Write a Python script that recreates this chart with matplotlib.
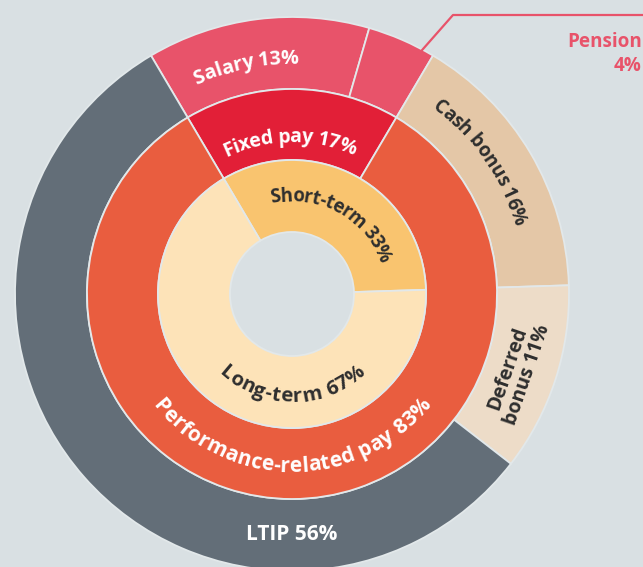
import matplotlib.pyplot as plt
import numpy as np
from matplotlib.font_manager import FontProperties

# pay mix, outer ring to inner ring
outer_labels = ["Salary", "Pension", "Cash bonus", "Deferred bonus", "LTIP"]
outer_values = [13, 4, 16, 11, 56]
middle_labels = ["Fixed pay", "Performance-related pay"]
middle_values = [17, 83]
inner_labels = ["Short-term", "Long-term"]
inner_values = [33, 67]

outer_colors = ["#E8536A", "#E8536A", "#E4C7A7", "#EDDCC8", "#636E78"]
middle_colors = ["#E21F37", "#E95D3F"]
inner_colors = ["#F9C46F", "#FDE3B8"]

BG = "#D9E0E3"
EDGE = "#E2E8EA"
DARK = "#2E2E2E"
PINK = "#E8536A"
FONT = "Open Sans"

W, H = 643, 567
cx, cy = 292, H - 294
r_outer, r_mid, r_inner, r_hole = 277, 205, 134, 62

fig = plt.figure(figsize=(W / 100, H / 100), dpi=100)
fig.patch.set_facecolor(BG)
ax = fig.add_axes([0, 0, 1, 1])

# fixed pay sits centred on the top of the chart
start = 90 + middle_values[0] / 100 * 180

for values, colors, r0, r1 in [
    (outer_values, outer_colors, r_outer, r_mid),
    (middle_values, middle_colors, r_mid, r_inner),
    (inner_values, inner_colors, r_inner, r_hole),
]:
    ax.pie(values, radius=r0, center=(cx, cy), startangle=start,
           counterclock=False, colors=colors,
           wedgeprops=dict(width=r0 - r1, edgecolor=EDGE, linewidth=1.3))

ax.set_xlim(0, W)
ax.set_ylim(0, H)
ax.set_aspect("equal")
ax.axis("off")

renderer = fig.canvas.get_renderer()


def font(size):
    return FontProperties(family=FONT, weight="bold", size=size)


def text_width(s, fp):
    w, h, d = renderer.get_text_width_height_descent(s, fp, ismath=False)
    return w


def arc_text(text, radius, angle, color, size, top=True):
    # one character at a time along a circle around the chart centre;
    # spacing is measured at mid letter height, not on the baseline
    fp = font(size)
    half = 0.36 * size * 100 / 72
    r_text = radius + half if top else radius - half
    total = text_width(text, fp)
    for i, ch in enumerate(text):
        if ch == " ":
            continue
        mid = text_width(text[:i + 1], fp) - text_width(ch, fp) / 2 - total / 2
        if top:
            theta = np.radians(angle) - mid / r_text
            rot = np.degrees(theta) - 90
        else:
            theta = np.radians(angle) + mid / r_text
            rot = np.degrees(theta) + 90
        ax.text(cx + radius * np.cos(theta), cy + radius * np.sin(theta), ch,
                rotation=rot, rotation_mode="anchor", ha="center",
                va="baseline", color=color, fontproperties=fp)


arc_text("Salary 13%", 230, 101.5, "white", 14.3)
arc_text("Fixed pay 17%", 152, 91, "white", 14.0)
arc_text("Short-term 33%", 93, 61, DARK, 13.4)
arc_text("Long-term 67%", 108, -90, DARK, 14.6, top=False)
arc_text("Performance-related pay 83%", 178, -90, "white", 15.0, top=False)
arc_text("Cash bonus 16%", 233, 35, DARK, 13.6)

a = np.radians(-19)
ax.text(cx + 238 * np.cos(a), cy + 238 * np.sin(a), "Deferred\nbonus 11%",
        rotation=71, rotation_mode="anchor", ha="center", va="center",
        ma="center", linespacing=1.05, color=DARK, fontproperties=font(14))
ax.text(cx, cy - 241, "LTIP 56%", ha="center", va="center",
        color="white", fontproperties=font(15))

# pension callout
a = np.radians(62)
x0, y0 = cx + 275 * np.cos(a), cy + 275 * np.sin(a)
ax.plot([x0, 453, W + 5], [y0, H - 15, H - 15], color=PINK, lw=1.6,
        solid_capstyle="butt", clip_on=False)
ax.text(W - 1, H - 32, "Pension\n4%", ha="right", va="top", ma="right",
        linespacing=1.25, color=PINK, fontproperties=font(13.6))

fig.savefig("out.png", dpi=100, facecolor=BG)
